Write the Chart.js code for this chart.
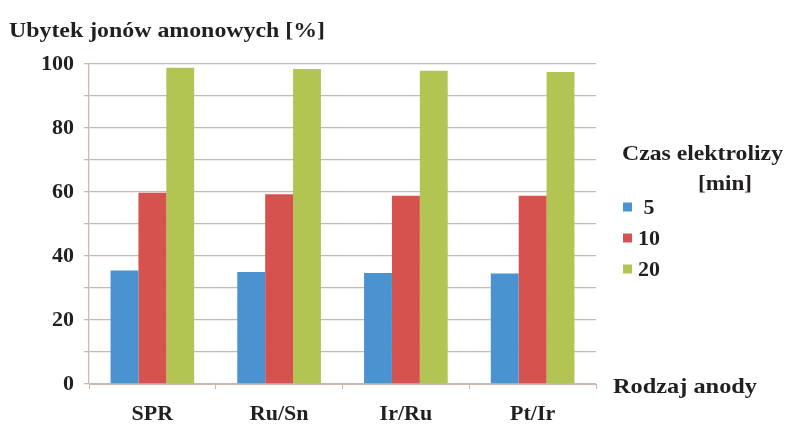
<!DOCTYPE html>
<html>
<head>
<meta charset="utf-8">
<script src="https://cdn.jsdelivr.net/npm/chart.js@4/dist/chart.umd.min.js"></script>
<style>
  html, body { margin: 0; padding: 0; background: #ffffff; }
  #wrap { width: 806px; height: 425px; position: relative; }
</style>
</head>
<body>
<div id="wrap"><canvas id="c" width="806" height="425"></canvas></div>
<script>
// Anode types and ammonium ion loss [%] per electrolysis time
const categories = ['SPR', 'Ru/Sn', 'Ir/Ru', 'Pt/Ir'];
const seriesLabels = ['5', '10', '20'];
const loss5min  = [35.5, 35.0, 34.7, 34.5];
const loss10min = [59.8, 59.3, 58.8, 58.8];
const loss20min = [98.8, 98.4, 97.9, 97.5];
const yTicks = [0, 20, 40, 60, 80, 100];

const colors = ['#4b92d0', '#d5524e', '#b2c452'];
const serif = "'Liberation Serif', 'DejaVu Serif', serif";
const gridColor = '#c9b7b0';
const textColor = '#231f20';

// Draw bold serif text, stretched horizontally to a given width
function wideText(ctx, text, x, y, size, width, align) {
  ctx.font = 'bold ' + size + 'px ' + serif;
  const w = ctx.measureText(text).width;
  const sx = width ? width / w : 1;
  ctx.save();
  ctx.textAlign = 'left';
  ctx.textBaseline = 'alphabetic';
  const left = align === 'center' ? x - (w * sx) / 2 : x;
  ctx.translate(left, y);
  ctx.scale(sx, 1);
  ctx.fillText(text, 0, 0);
  ctx.restore();
}

// Titles and legend drawn onto the canvas around the plot
const decorations = {
  id: 'decorations',
  afterDraw(chart) {
    const ctx = chart.ctx;
    ctx.save();
    ctx.fillStyle = textColor;
    wideText(ctx, 'Ubytek jonów amonowych [%]', 9, 37, 22, 316);
    wideText(ctx, 'Rodzaj anody', 613, 393, 22, 144);

    // legend
    wideText(ctx, 'Czas elektrolizy', 622, 160, 22, 161);
    wideText(ctx, '[min]', 698, 190, 22, 54);
    const rowCenters = [207, 238, 269];
    chart.data.datasets.forEach((ds, i) => {
      const cy = rowCenters[i];
      ctx.fillStyle = ds.backgroundColor;
      ctx.fillRect(623, cy - 4.5, 9, 9);
      ctx.fillStyle = textColor;
      wideText(ctx, ds.label, 649, cy + 7, 22, 0, 'center');
    });
    ctx.restore();
  }
};

new Chart(document.getElementById('c'), {
  type: 'bar',
  data: {
    labels: categories,
    datasets: [
      { label: seriesLabels[0], data: loss5min,  backgroundColor: colors[0] },
      { label: seriesLabels[1], data: loss10min, backgroundColor: colors[1] },
      { label: seriesLabels[2], data: loss20min, backgroundColor: colors[2] }
    ]
  },
  options: {
    responsive: false,
    animation: false,
    layout: { padding: { left: 0, right: 210, top: 64, bottom: 0 } },
    datasets: { bar: { barPercentage: 1.0, categoryPercentage: 0.66, borderWidth: 0 } },
    plugins: {
      legend: { display: false },
      tooltip: { enabled: false },
      title: { display: false }
    },
    scales: {
      x: {
        grid: {
          display: true,
          drawOnChartArea: false,
          drawTicks: true,
          tickLength: 5,
          color: gridColor,
          offset: true
        },
        border: { display: true, color: gridColor, width: 1 },
        ticks: {
          color: textColor,
          font: { family: serif, size: 22, weight: 'bold' },
          padding: 12
        },
        afterFit(scale) { scale.height = 41; }
      },
      y: {
        min: 0,
        max: 100,
        afterBuildTicks(scale) {
          const t = [];
          for (let v = 0; v <= 100; v += 10) t.push({ value: v });
          scale.ticks = t;
        },
        grid: {
          color: gridColor,
          lineWidth: 1.3,
          drawTicks: true,
          tickLength: 5
        },
        border: { display: true, color: gridColor, width: 1.3 },
        ticks: {
          color: textColor,
          font: { family: serif, size: 22, weight: 'bold' },
          padding: 10,
          callback: (v) => yTicks.includes(v) ? String(v) : ''
        },
        afterFit(scale) { scale.width = 89; }
      }
    }
  },
  plugins: [decorations]
});
</script>
</body>
</html>
